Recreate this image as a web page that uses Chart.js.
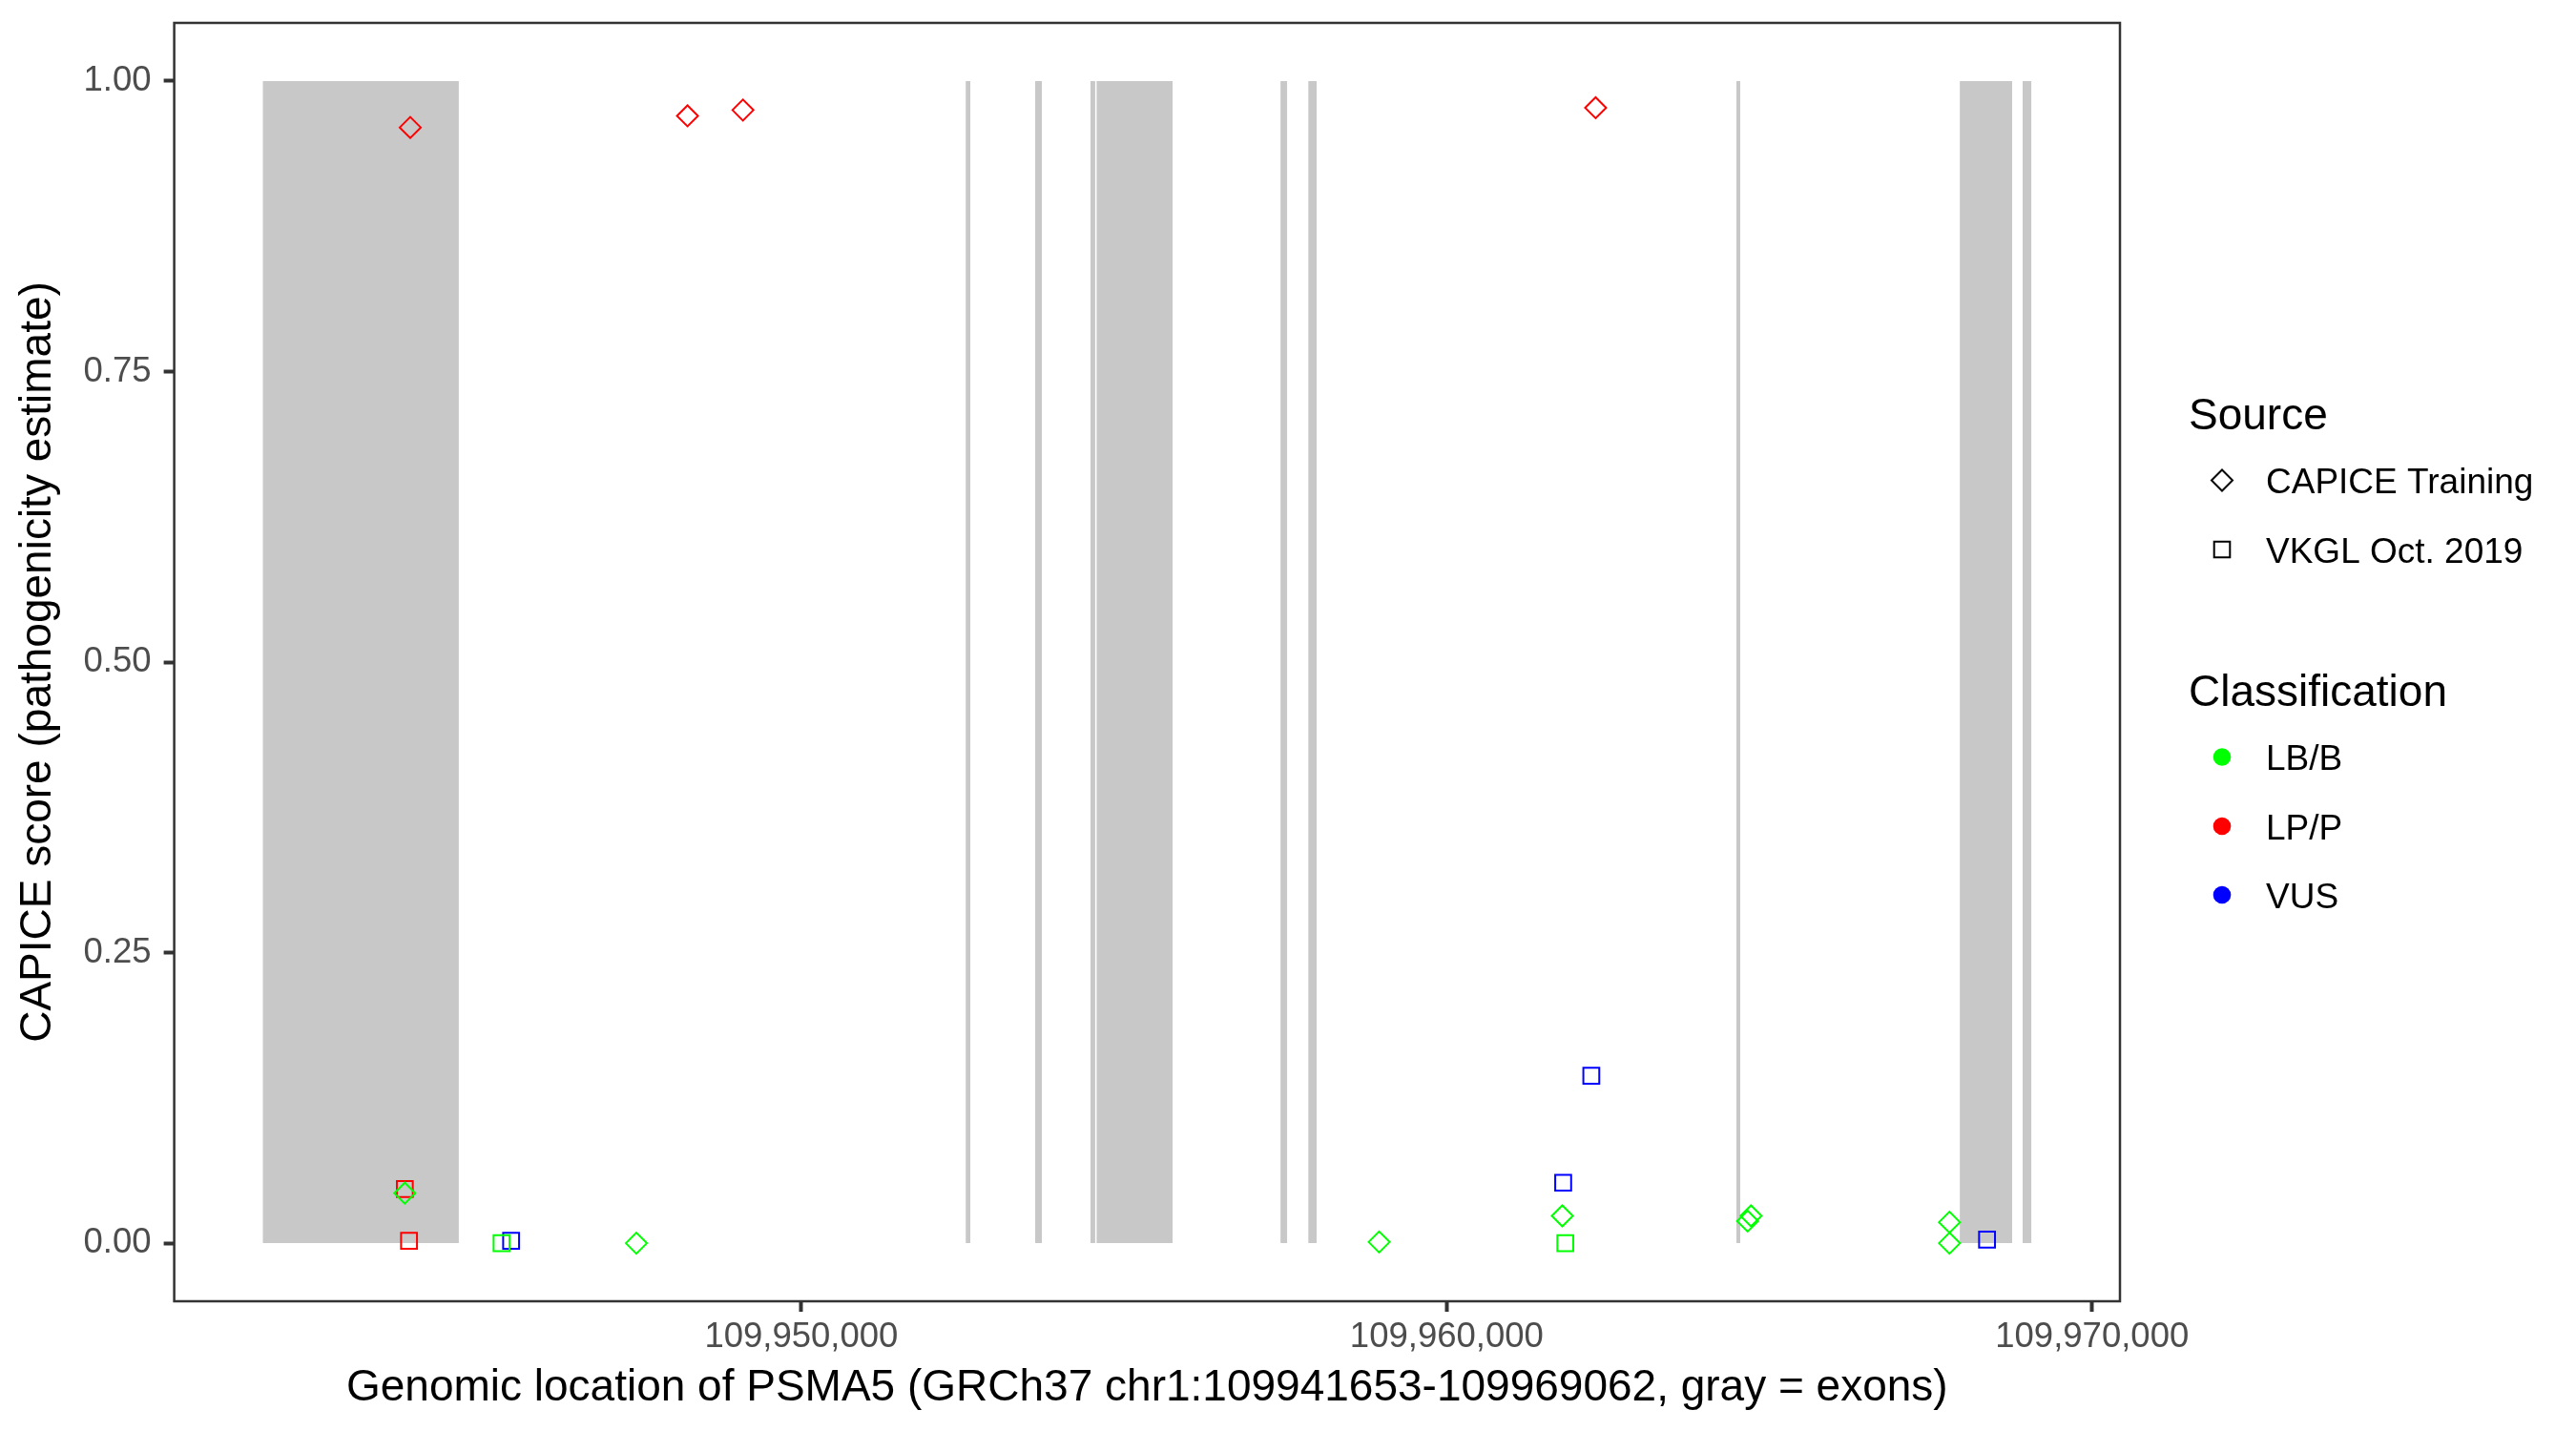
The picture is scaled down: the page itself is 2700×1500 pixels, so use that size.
<!DOCTYPE html>
<html>
<head>
<meta charset="utf-8">
<script src="https://cdn.jsdelivr.net/npm/chart.js@4/dist/chart.umd.min.js"></script>
<style>
  html, body { margin: 0; padding: 0; background: #ffffff; }
  #wrap { width: 2700px; height: 1500px; position: relative; }
</style>
</head>
<body>
<div id="wrap"><canvas id="c" width="2700" height="1500"></canvas></div>
<script>
// ---------- data ----------
const exonStarts = [109941653, 109952546, 109953622, 109954480, 109954573, 109957424, 109957854, 109964488, 109967950, 109968924];
const exonEnds   = [109944693, 109952620, 109953729, 109954554, 109955755, 109957530, 109957986, 109964551, 109968763, 109969062];

// CAPICE Training (diamonds)
const capiceLPP_x = [109943940, 109948236, 109949095, 109962308];
const capiceLPP_y = [0.960, 0.970, 0.975, 0.977];
const capiceLBB_x = [109943856, 109947444, 109958953, 109961792, 109964663, 109964716, 109967791, 109967791];
const capiceLBB_y = [0.043, 0.000, 0.001, 0.0235, 0.019, 0.0235, 0.018, 0.000];

// VKGL Oct. 2019 (squares)
const vkglLPP_x = [109943856, 109943921];
const vkglLPP_y = [0.0465, 0.002];
const vkglLBB_x = [109945355, 109961838];
const vkglLBB_y = [0.000, 0.000];
const vkglVUS_x = [109945503, 109962241, 109961805, 109968373];
const vkglVUS_y = [0.002, 0.144, 0.052, 0.003];

const xTickValues = [109950000, 109960000, 109970000];
const yTickValues = [0, 0.25, 0.5, 0.75, 1.0];

const sourceTitle = 'Source';
const sourceLabels = ['CAPICE Training', 'VKGL Oct. 2019'];
const classTitle = 'Classification';
const classLabels = ['LB/B', 'LP/P', 'VUS'];
const classColors = ['#00FF00', '#FF0000', '#0000FF'];

const xTitle = 'Genomic location of PSMA5 (GRCh37 chr1:109941653-109969062, gray = exons)';
const yTitle = 'CAPICE score (pathogenicity estimate)';

// ---------- build ----------
const FONT = '"Liberation Sans", Arial, Helvetica, sans-serif';
const geneStart = 109941653, geneEnd = 109969062;
const pad = (geneEnd - geneStart) * 0.05;

function pts(xs, ys) { return xs.map((x, i) => ({ x: x, y: ys[i] })); }

const datasets = [];
exonStarts.forEach((s, i) => {
  datasets.push({
    type: 'line',
    data: [{ x: s, y: 1 }, { x: exonEnds[i], y: 1 }],
    fill: 'origin',
    backgroundColor: '#C8C8C8',
    borderColor: 'rgba(0,0,0,0)',
    borderWidth: 0,
    pointRadius: 0,
    order: 10
  });
});

function pointSet(xs, ys, color, style, r) {
  return {
    type: 'scatter',
    data: pts(xs, ys),
    pointStyle: style,
    pointRadius: r,
    pointHoverRadius: r,
    pointBorderWidth: 2,
    pointBorderColor: color,
    pointBackgroundColor: 'rgba(0,0,0,0)',
    showLine: false,
    order: 1
  };
}
datasets.push(pointSet(capiceLBB_x, capiceLBB_y, classColors[0], 'rectRot', 11));
datasets.push(pointSet(capiceLPP_x, capiceLPP_y, classColors[1], 'rectRot', 11));
datasets.push(pointSet(vkglLBB_x, vkglLBB_y, classColors[0], 'rect', 11.8));
datasets.push(pointSet(vkglLPP_x, vkglLPP_y, classColors[1], 'rect', 11.8));
datasets.push(pointSet(vkglVUS_x, vkglVUS_y, classColors[2], 'rect', 11.8));

const borderPlugin = {
  id: 'panelBorder',
  afterDraw(chart) {
    const { ctx, chartArea: a } = chart;
    ctx.save();
    ctx.strokeStyle = '#333333';
    ctx.lineWidth = 2.5;
    ctx.strokeRect(a.left, a.top, a.right - a.left, a.bottom - a.top);
    ctx.restore();
  }
};

const legendPlugin = {
  id: 'ggLegend',
  afterDraw(chart) {
    const ctx = chart.ctx;
    ctx.save();
    ctx.textAlign = 'left';
    ctx.textBaseline = 'alphabetic';
    ctx.fillStyle = '#000000';
    const keyX = 2329, textX = 2375;
    // Source
    ctx.font = '46px ' + FONT;
    ctx.fillText(sourceTitle, 2294, 450);
    ctx.font = '37px ' + FONT;
    const srcY = [503.5, 576];
    sourceLabels.forEach((lab, i) => {
      ctx.fillStyle = '#000000';
      ctx.fillText(lab, textX, srcY[i] + 13.5);
      ctx.strokeStyle = '#000000';
      ctx.lineWidth = 2;
      ctx.beginPath();
      if (i === 0) {
        const r = 11;
        ctx.moveTo(keyX - r, srcY[i]); ctx.lineTo(keyX, srcY[i] - r);
        ctx.lineTo(keyX + r, srcY[i]); ctx.lineTo(keyX, srcY[i] + r);
        ctx.closePath();
      } else {
        const h = 8.3;
        ctx.rect(keyX - h, srcY[i] - h, 2 * h, 2 * h);
      }
      ctx.stroke();
    });
    // Classification
    ctx.fillStyle = '#000000';
    ctx.font = '46px ' + FONT;
    ctx.fillText(classTitle, 2294, 740);
    ctx.font = '37px ' + FONT;
    const clsY = [793.5, 866, 938];
    classLabels.forEach((lab, i) => {
      ctx.fillStyle = '#000000';
      ctx.fillText(lab, textX, clsY[i] + 13.5);
      ctx.fillStyle = classColors[i];
      ctx.beginPath();
      ctx.arc(keyX, clsY[i], 9.3, 0, Math.PI * 2);
      ctx.fill();
    });
    ctx.restore();
  }
};

new Chart(document.getElementById('c'), {
  type: 'scatter',
  data: { datasets: datasets },
  options: {
    responsive: false,
    animation: false,
    events: [],
    layout: { padding: { left: 0, top: 24, right: 478, bottom: 0 } },
    plugins: { legend: { display: false }, tooltip: { enabled: false } },
    scales: {
      x: {
        type: 'linear',
        min: geneStart - pad,
        max: geneEnd + pad,
        afterFit(scale) { scale.height = 136; scale.paddingLeft = 0; scale.paddingRight = 0; },
        afterBuildTicks(scale) { scale.ticks = xTickValues.map(v => ({ value: v })); },
        border: { display: false },
        grid: { display: true, drawOnChartArea: false, drawTicks: true, tickLength: 11, tickWidth: 4, tickColor: '#333333', color: '#333333' },
        ticks: {
          padding: 5,
          color: '#4D4D4D',
          font: { family: FONT, size: 36.5 },
          maxRotation: 0,
          callback: (v) => Number(v).toLocaleString('en-US')
        },
        title: { display: true, text: xTitle, color: '#000000', font: { family: FONT, size: 46 }, padding: { top: 0, bottom: 17 } }
      },
      y: {
        type: 'linear',
        min: -0.05,
        max: 1.05,
        afterFit(scale) { scale.width = 182.6; scale.paddingTop = 0; scale.paddingBottom = 0; },
        afterBuildTicks(scale) { scale.ticks = yTickValues.map(v => ({ value: v })); },
        border: { display: false },
        grid: { display: true, drawOnChartArea: false, drawTicks: true, tickLength: 11, tickWidth: 4, tickColor: '#333333', color: '#333333' },
        ticks: {
          padding: 13,
          color: '#4D4D4D',
          font: { family: FONT, size: 36.5 },
          callback: (v) => Number(v).toFixed(2)
        },
        title: { display: true, text: yTitle, color: '#000000', font: { family: FONT, size: 46 }, padding: { top: 13, bottom: 0 } }
      }
    }
  },
  plugins: [borderPlugin, legendPlugin]
});
</script>
</body>
</html>
